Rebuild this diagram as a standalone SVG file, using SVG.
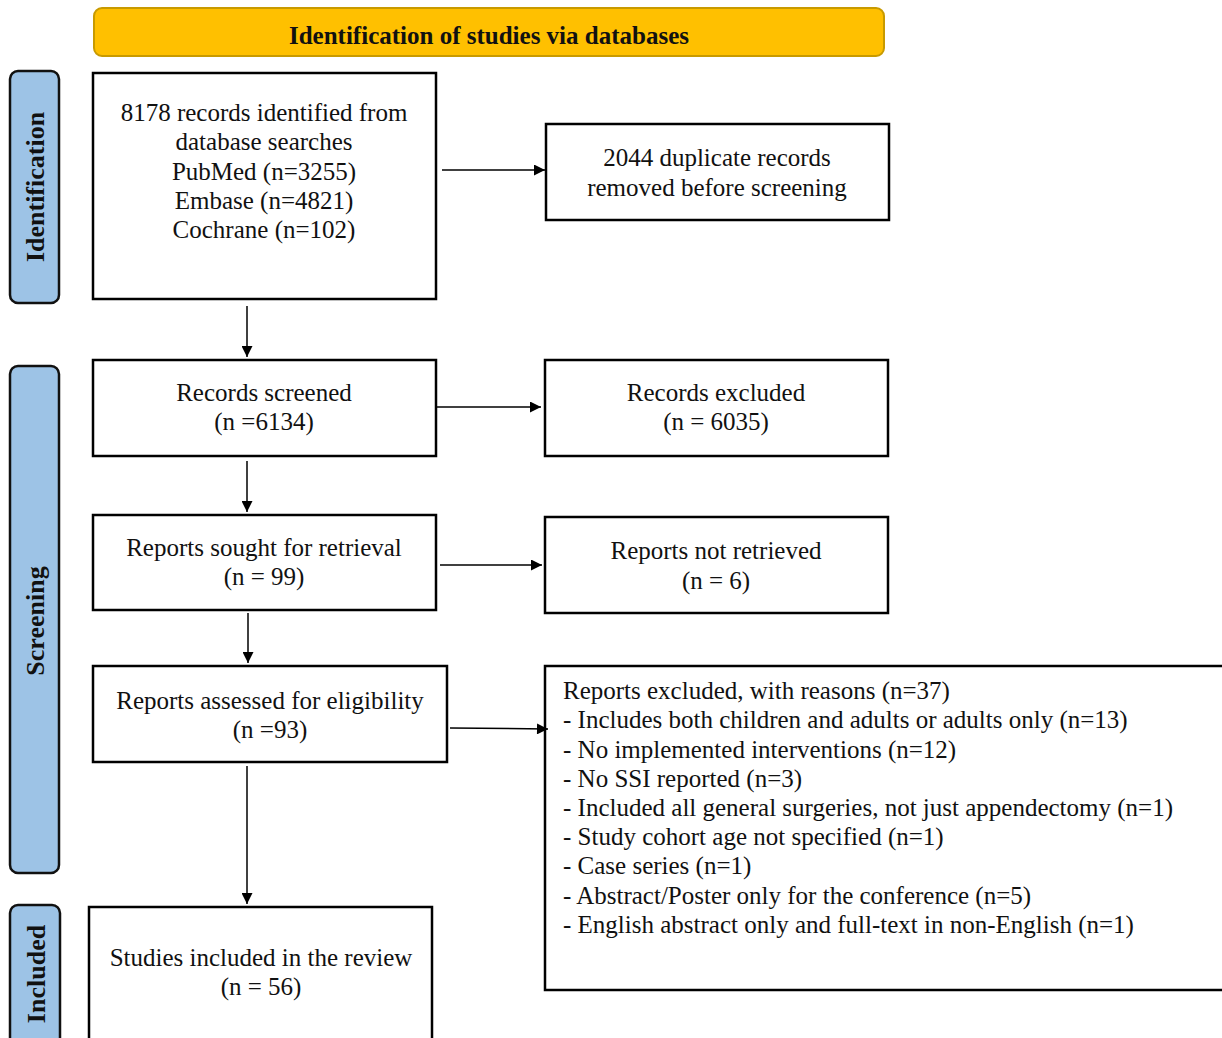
<svg xmlns="http://www.w3.org/2000/svg" width="1222" height="1038" viewBox="0 0 1222 1038">
<style>
text{font-family:"Liberation Serif","Times New Roman",serif;fill:#111}
.t{font-size:25px;text-anchor:middle}
.l{font-size:25px}
.b{font-weight:bold}
.box{fill:#fff;stroke:#000;stroke-width:2.5}
.side{fill:#9DC3E6;stroke:#111;stroke-width:2.5}
.c{stroke:#000;stroke-width:1.5;fill:none;marker-end:url(#ah)}
</style>
<defs>
<marker id="ah" viewBox="0 0 10 10" refX="10" refY="5" markerWidth="12" markerHeight="11" markerUnits="userSpaceOnUse" orient="auto"><path d="M0,0L10,5L0,10z" fill="#000"/></marker>
</defs>
<rect width="1222" height="1038" fill="#fff"/>
<g id="header">
<rect x="94" y="8" width="790" height="48" rx="8" fill="#FFC000" stroke="#C89A00" stroke-width="2"/>
<text class="t b" x="489" y="44">Identification of studies via databases</text>
</g>
<g id="lane-identification">
<rect class="side" x="10" y="71" width="49" height="232" rx="8"/>
<text class="t b" transform="translate(44,187) rotate(-90)" style="font-size:26px">Identification</text>
</g>
<g id="lane-screening">
<rect class="side" x="10" y="366" width="49" height="507" rx="8"/>
<text class="t b" transform="translate(44,621) rotate(-90)" style="font-size:26px">Screening</text>
</g>
<g id="lane-included">
<rect class="side" x="10" y="905" width="50" height="150" rx="8"/>
<text class="t b" transform="translate(45,974) rotate(-90)" style="font-size:26px">Included</text>
</g>
<g id="identified">
<rect class="box" x="93" y="73" width="343" height="226"/>
<text class="t" x="264" y="121">8178 records identified from</text>
<text class="t" x="264" y="150">database searches</text>
<text class="t" x="264" y="180">PubMed (n=3255)</text>
<text class="t" x="264" y="209">Embase (n=4821)</text>
<text class="t" x="264" y="238">Cochrane (n=102)</text>
</g>
<g id="duplicates">
<rect class="box" x="546" y="124" width="343" height="96"/>
<text class="t" x="717" y="166">2044 duplicate records</text>
<text class="t" x="717" y="196">removed before screening</text>
</g>
<g id="screened">
<rect class="box" x="93" y="360" width="343" height="96"/>
<text class="t" x="264" y="401">Records screened</text>
<text class="t" x="264" y="430">(n =6134)</text>
</g>
<g id="excluded">
<rect class="box" x="545" y="360" width="343" height="96"/>
<text class="t" x="716" y="401">Records excluded</text>
<text class="t" x="716" y="430">(n = 6035)</text>
</g>
<g id="sought">
<rect class="box" x="93" y="515" width="343" height="95"/>
<text class="t" x="264" y="556">Reports sought for retrieval</text>
<text class="t" x="264" y="585">(n = 99)</text>
</g>
<g id="notretrieved">
<rect class="box" x="545" y="517" width="343" height="96"/>
<text class="t" x="716" y="559">Reports not retrieved</text>
<text class="t" x="716" y="589">(n = 6)</text>
</g>
<g id="assessed">
<rect class="box" x="93" y="666" width="354" height="96"/>
<text class="t" x="270" y="709">Reports assessed for eligibility</text>
<text class="t" x="270" y="738">(n =93)</text>
</g>
<g id="reasons">
<rect class="box" x="545" y="666" width="690" height="324"/>
<text class="l" x="563" y="699">Reports excluded, with reasons (n=37)</text>
<text class="l" x="563" y="728">- Includes both children and adults or adults only (n=13)</text>
<text class="l" x="563" y="758">- No implemented interventions (n=12)</text>
<text class="l" x="563" y="787">- No SSI reported (n=3)</text>
<text class="l" x="563" y="816">- Included all general surgeries, not just appendectomy (n=1)</text>
<text class="l" x="563" y="845">- Study cohort age not specified (n=1)</text>
<text class="l" x="563" y="874">- Case series (n=1)</text>
<text class="l" x="563" y="904">- Abstract/Poster only for the conference (n=5)</text>
<text class="l" x="563" y="933">- English abstract only and full-text in non-English (n=1)</text>
</g>
<g id="included">
<rect class="box" x="89" y="907" width="343" height="150"/>
<text class="t" x="261" y="966">Studies included in the review</text>
<text class="t" x="261" y="995">(n = 56)</text>
</g>
<g id="connectors">
<line class="c" x1="442" y1="170" x2="545" y2="170"/>
<line class="c" x1="247" y1="306" x2="247" y2="357"/>
<line class="c" x1="437" y1="407" x2="541" y2="407"/>
<line class="c" x1="247" y1="461" x2="247" y2="512"/>
<line class="c" x1="440" y1="565" x2="542" y2="565"/>
<line class="c" x1="248" y1="613" x2="248" y2="663"/>
<line class="c" x1="450" y1="728" x2="548" y2="729"/>
<line class="c" x1="247" y1="766" x2="247" y2="904"/>
</g>
</svg>
